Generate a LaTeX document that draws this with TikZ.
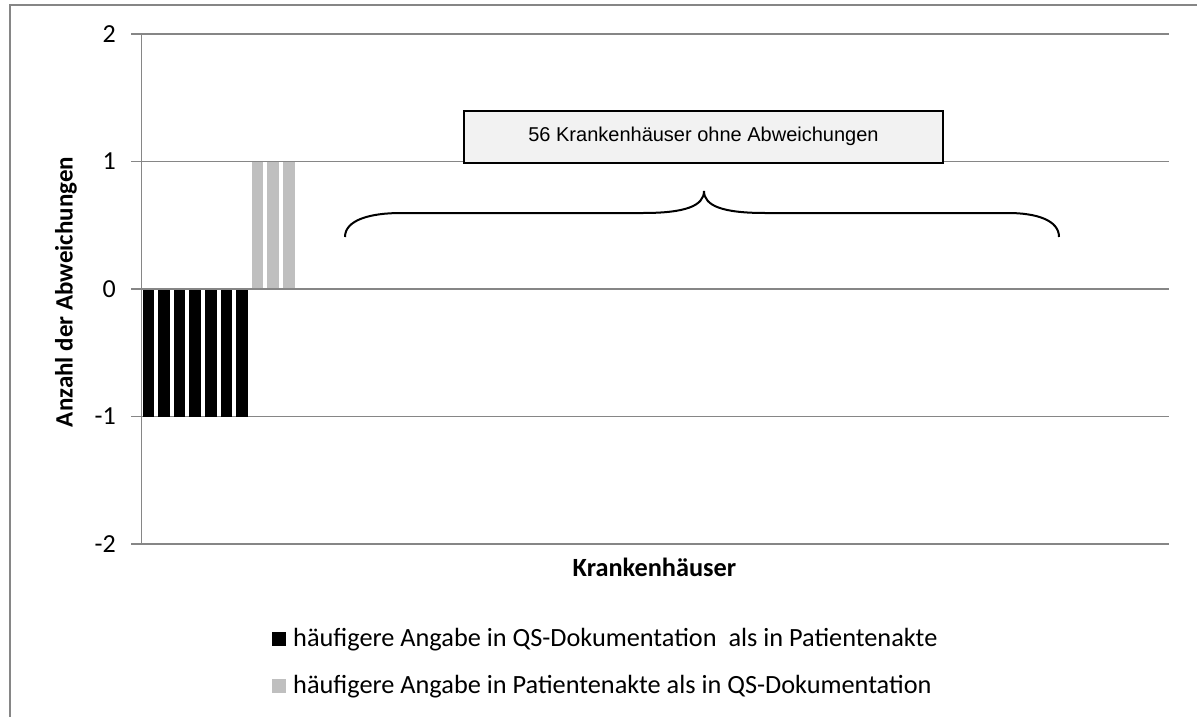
\documentclass[tikz,border=0pt]{standalone}
\usepackage{fontspec}
\setmainfont{Carlito}
\newfontfamily\notefont{Liberation Sans}
\definecolor{gridgray}{HTML}{868686}
\definecolor{lightbar}{HTML}{BFBFBF}
\definecolor{notefill}{HTML}{F2F2F2}

\begin{document}
\begin{tikzpicture}[x=1pt, y=-1pt,
    gridline/.style={draw=gridgray, line width=1.5pt},
    ticklabel/.style={anchor=east, inner sep=0pt, font=\fontsize{26}{31}\selectfont},
    axistitle/.style={inner sep=0pt, font=\bfseries\fontsize{25}{30}\selectfont},
    legendkey/.style={minimum size=14pt, inner sep=0pt},
    legendtext/.style={anchor=base west, inner sep=0pt, font=\fontsize{26.3}{31}\selectfont}]
    \useasboundingbox (0,0) rectangle (1197,717);

    % chart frame
    \draw[gridline] (10,717) -- (10,5) -- (1197,5);

    % gridlines, ticks and values
    \foreach \v/\yy in {2/34,1/161.5,0/289,-1/416.5,-2/544} {
        \draw[gridline] (131,\yy) -- (1169,\yy);
        \node[ticklabel] (tick\v) at (116,\yy) {\v};
    }

    % hospitals with deviations
    \foreach \i in {0,...,6} {
        \fill[black] ({142.5+15.6*\i},289) rectangle ++(11.7,127.5);
    }
    \foreach \i in {7,8,9} {
        \fill[lightbar] ({142.5+15.6*\i},289) rectangle ++(11.7,-127.5);
    }

    % axes
    \draw[gridline] (141.5,34) -- (141.5,544);
    \draw[gridline] (141.5,289) -- (1169,289);
    \node[axistitle, rotate=90] (ytitle) at (66,292) {Anzahl der Abweichungen};
    \node[axistitle, anchor=base, font=\bfseries\fontsize{26.3}{31}\selectfont] (xtitle) at (654.5,576) {Krankenhäuser};

    % hospitals without deviations
    \node[draw=black, line width=2pt, fill=notefill, minimum width=479pt, minimum height=52pt,
          font=\notefont\fontsize{20}{24}\selectfont] (note) at (703.5,136.5)
          {56 Krankenhäuser ohne Abweichungen};
    \draw[line width=2pt] (345,237) .. controls (345,220) and (370,213) .. (401,213)
        -- (643,213) .. controls (685,213) and (704,206) .. (704,191)
        .. controls (704,206) and (723,213) .. (765,213)
        -- (1008,213) .. controls (1036,213) and (1059,220) .. (1059,237);

    % legend
    \node[legendkey, fill=black] (keyqs) at (279,638.5) {};
    \node[legendtext] (textqs) at (293,646) {häufigere Angabe in QS-Dokumentation\ \ als in Patientenakte};
    \node[legendkey, fill=lightbar] (keypa) at (279,685.5) {};
    \node[legendtext] (textpa) at (293,693) {häufigere Angabe in Patientenakte als in QS-Dokumentation};
\end{tikzpicture}
\end{document}
